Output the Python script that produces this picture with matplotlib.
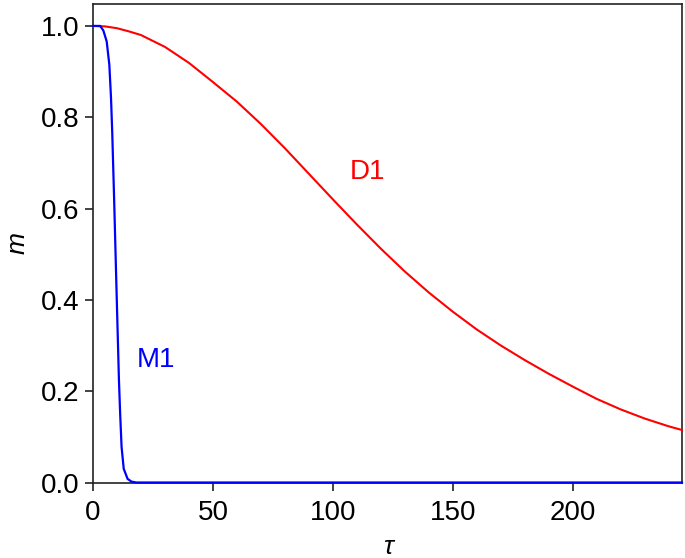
import matplotlib
matplotlib.use("Agg")
import matplotlib.pyplot as plt

# values
tau_d1 = [0, 5, 10, 15, 20, 30, 40, 50, 60, 70, 80, 90, 100, 110, 120, 130, 140,
          150, 160, 170, 180, 190, 200, 210, 220, 230, 240, 245.5]
m_d1 = [1.0, 0.999, 0.995, 0.988, 0.980, 0.954, 0.919, 0.877, 0.834, 0.785,
        0.732, 0.676, 0.620, 0.565, 0.512, 0.462, 0.416, 0.374, 0.335, 0.300,
        0.268, 0.238, 0.210, 0.183, 0.160, 0.140, 0.123, 0.115]

tau_m1 = [0, 3, 4.3, 5.7, 6.8, 7.5, 8.0, 8.8, 9.7, 10.8, 11.3, 11.9, 12.8,
          14.4, 16, 18, 245.5]
m_m1 = [1.0, 1.0, 0.99, 0.966, 0.915, 0.842, 0.768, 0.62, 0.44, 0.225, 0.152,
        0.078, 0.03, 0.008, 0.002, 0.0, 0.0]

xticks = [0, 50, 100, 150, 200]
yticks = [0.0, 0.2, 0.4, 0.6, 0.8, 1.0]

plt.rcParams['font.family'] = ['Liberation Sans', 'DejaVu Sans']

fig = plt.figure(figsize=(6.85, 5.58), dpi=100)
ax = fig.add_axes([0.1358, 0.1353, 0.9956 - 0.1358, 0.9928 - 0.1353])

ax.plot(tau_d1, m_d1, color="#ff0000", lw=1.5, zorder=3, clip_on=False)
ax.plot(tau_m1, m_m1, color="#0000ff", lw=1.6, zorder=4, clip_on=False)

ax.text(107, 0.68, "D1", color="#ff0000", fontsize=20, va="center", ha="left")
ax.text(18.3, 0.268, "M1", color="#0000ff", fontsize=20, va="center", ha="left")

ax.set_xlim(0, 245.5)
ax.set_ylim(0, 1.048)
ax.set_xticks(xticks)
ax.set_yticks(yticks)
ax.set_yticklabels(["%.1f" % v for v in yticks])

ax.tick_params(direction="out", length=5.8, width=1.2, labelsize=20,
               color="#222222", top=False, right=False)
ax.tick_params(axis="x", pad=7)
ax.tick_params(axis="y", pad=4)
for s in ax.spines.values():
    s.set_linewidth(1.2)
    s.set_color("#222222")

ax.set_xlabel("τ", fontsize=19, style="italic", labelpad=6)
ax.set_ylabel("m", fontsize=19, style="italic", labelpad=8)

fig.savefig("out.png", dpi=100)
